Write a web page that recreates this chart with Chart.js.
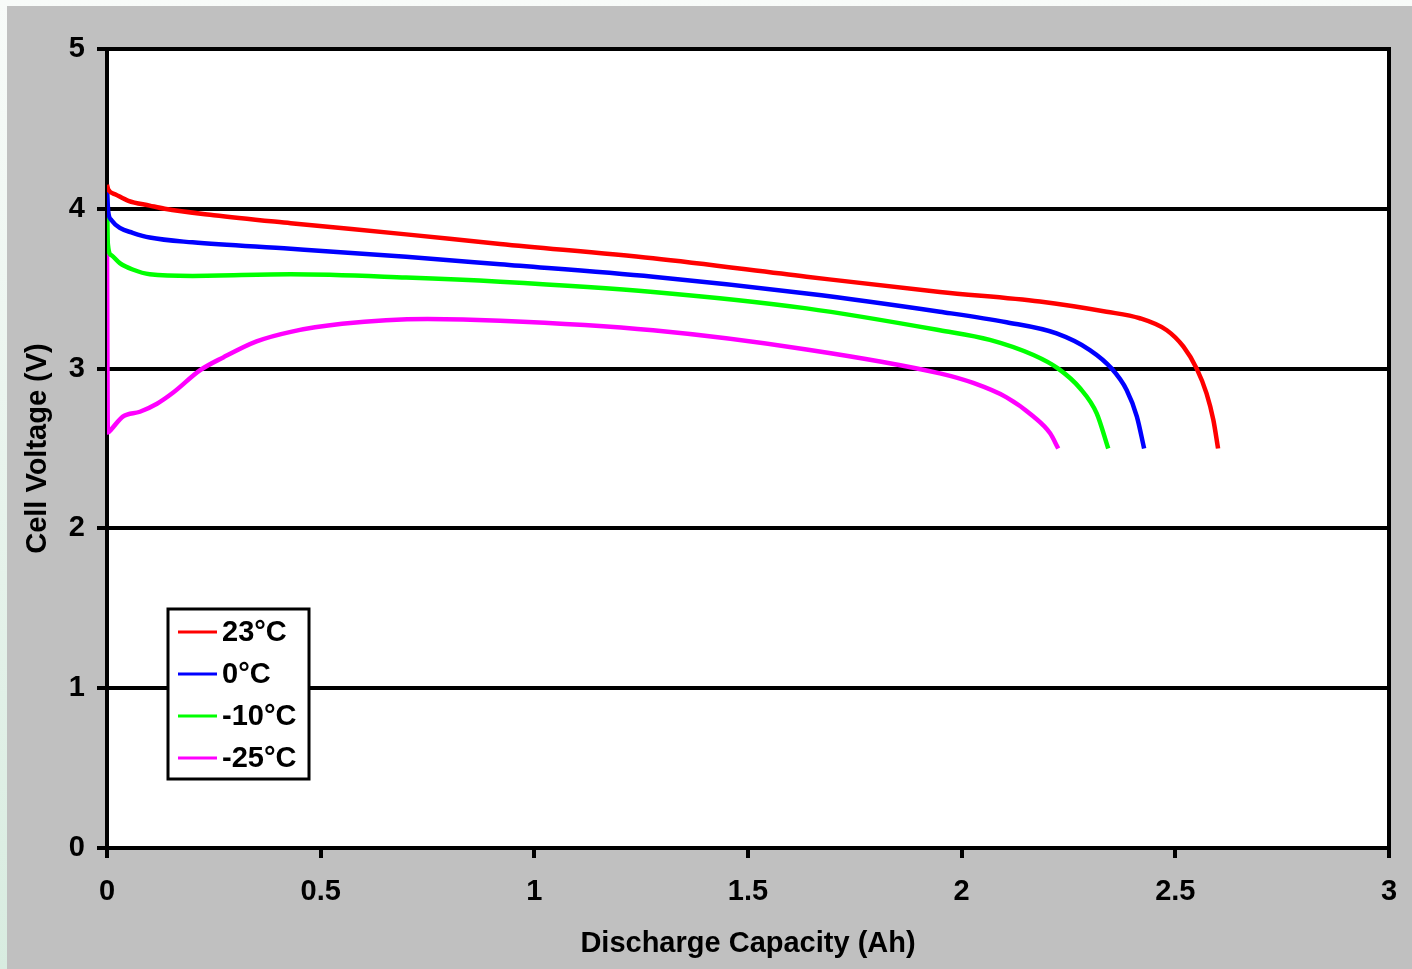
<!DOCTYPE html>
<html>
<head>
<meta charset="utf-8">
<script src="https://cdn.jsdelivr.net/npm/chart.js@4.4.1/dist/chart.umd.min.js"></script>
<style>
  body {
    margin: 0;
    width: 1412px;
    height: 969px;
    overflow: hidden;
    background: linear-gradient(to bottom, #f8fbf9, #d8ece0);
  }
  #chartJSContainer {
    position: absolute;
    left: 7px;
    top: 6px;
    background: #c0c0c0;
  }
</style>
</head>
<body>
<canvas id="chartJSContainer" width="1405" height="963"></canvas>
<script>
// discharge curves (capacity in Ah, voltage in V)
var labels = ["23°C", "0°C", "-10°C", "-25°C"];

var cap23 = [0, 0.003, 0.02, 0.05, 0.1, 0.135, 0.25, 0.43, 0.7, 0.92, 1.278, 1.637, 1.949, 2.183, 2.339, 2.417, 2.48, 2.519, 2.55, 2.573, 2.589, 2.6];
var volt23 = [4.15, 4.12, 4.09, 4.05, 4.02, 4.0, 3.96, 3.91, 3.84, 3.78, 3.69, 3.575, 3.48, 3.42, 3.356, 3.315, 3.24, 3.137, 3.0, 2.845, 2.678, 2.5];

var cap0 = [0, 0.003, 0.01, 0.03, 0.06, 0.1, 0.2, 0.43, 0.7, 0.92, 1.278, 1.637, 1.949, 2.105, 2.222, 2.3, 2.351, 2.386, 2.41, 2.427];
var volt0 = [4.12, 3.98, 3.93, 3.88, 3.85, 3.82, 3.79, 3.75, 3.7, 3.653, 3.575, 3.47, 3.356, 3.29, 3.22, 3.116, 3.0, 2.866, 2.7, 2.5];

var capM10 = [0, 0.002, 0.01, 0.03, 0.06, 0.1, 0.2, 0.43, 0.7, 0.92, 1.278, 1.637, 1.949, 2.066, 2.168, 2.226, 2.277, 2.316, 2.343];
var voltM10 = [4.1, 3.78, 3.71, 3.66, 3.62, 3.59, 3.58, 3.59, 3.57, 3.544, 3.48, 3.377, 3.24, 3.18, 3.085, 3.0, 2.877, 2.72, 2.5];

var capM25 = [0, 0.002, 0.01, 0.037, 0.077, 0.117, 0.155, 0.218, 0.272, 0.35, 0.43, 0.55, 0.75, 0.92, 1.278, 1.637, 1.949, 2.027, 2.105, 2.168, 2.207, 2.226];
var voltM25 = [3.78, 2.6, 2.62, 2.7, 2.73, 2.78, 2.85, 2.99, 3.07, 3.17, 3.23, 3.28, 3.31, 3.3, 3.24, 3.12, 2.97, 2.91, 2.82, 2.7, 2.595, 2.5];

var colors = ["#ff0000", "#0000ff", "#00ff00", "#ff00ff"];

function toPoints(xs, ys) {
  return xs.map(function (x, i) {
    return { x: x, y: ys[i] };
  });
}

var series = [
  toPoints(cap23, volt23),
  toPoints(cap0, volt0),
  toPoints(capM10, voltM10),
  toPoints(capM25, voltM25),
];

var FONT = "'Liberation Sans', Arial, sans-serif";

// black frame round the plot area, under the curves
var frame = {
  id: "frame",
  beforeDatasetsDraw: function (chart) {
    var a = chart.chartArea;
    var ctx = chart.ctx;
    ctx.save();
    ctx.strokeStyle = "#000";
    ctx.lineWidth = 4;
    ctx.strokeRect(a.left, a.top, a.right - a.left, a.bottom - a.top);
    ctx.restore();
  },
};

// boxed legend sitting inside the plot, lower left
var boxLegend = {
  id: "boxLegend",
  afterDatasetsDraw: function (chart) {
    var ctx = chart.ctx;
    var bx = 161, by = 603, bw = 141, bh = 170;
    ctx.save();
    ctx.fillStyle = "#fff";
    ctx.fillRect(bx, by, bw, bh);
    ctx.strokeStyle = "#000";
    ctx.lineWidth = 3;
    ctx.strokeRect(bx, by, bw, bh);
    ctx.font = "bold 29px " + FONT;
    ctx.textBaseline = "middle";
    chart.data.datasets.forEach(function (ds, i) {
      var y = 626 + i * 42;
      ctx.strokeStyle = ds.borderColor;
      ctx.lineWidth = 3;
      ctx.beginPath();
      ctx.moveTo(171, y);
      ctx.lineTo(210, y);
      ctx.stroke();
      ctx.fillStyle = "#000";
      ctx.fillText(ds.label, 215, y + 1);
    });
    ctx.restore();
  },
};

var options = {
  type: "line",
  data: {
    datasets: series.map(function (pts, i) {
      return {
        label: labels[i],
        data: pts,
        borderColor: colors[i],
        backgroundColor: colors[i],
        borderWidth: 4.5,
        pointRadius: 0,
        fill: false,
        cubicInterpolationMode: "monotone",
      };
    }),
  },
  options: {
    responsive: false,
    animation: false,
    devicePixelRatio: 1,
    layout: {
      padding: { top: 43, right: 23, left: 0, bottom: 0 },
    },
    scales: {
      x: {
        type: "linear",
        min: 0,
        max: 3,
        afterFit: function (scale) {
          scale.height = 121;
          scale.paddingLeft = 0;
          scale.paddingRight = 0;
        },
        ticks: {
          stepSize: 0.5,
          color: "#000",
          padding: 17,
          maxRotation: 0,
          callback: function (value) {
            return String(value);
          },
          font: { family: FONT, size: 29, weight: "bold" },
        },
        grid: {
          drawOnChartArea: false,
          drawTicks: true,
          tickLength: 10,
          color: "#000",
          lineWidth: 4,
        },
        border: { display: true, color: "#000", width: 4 },
        title: {
          display: true,
          text: "Discharge Capacity (Ah)",
          color: "#000",
          padding: 8,
          font: { family: FONT, size: 29, weight: "bold" },
        },
      },
      y: {
        min: 0,
        max: 5,
        afterFit: function (scale) {
          scale.width = 100;
        },
        ticks: {
          stepSize: 1,
          color: "#000",
          padding: 12,
          font: { family: FONT, size: 29, weight: "bold" },
        },
        grid: {
          drawTicks: true,
          tickLength: 10,
          color: "#000",
          lineWidth: 4,
        },
        border: { display: true, color: "#000", width: 4 },
        title: {
          display: true,
          text: "Cell Voltage (V)",
          color: "#000",
          padding: 14,
          font: { family: FONT, size: 29, weight: "bold" },
        },
      },
    },
    plugins: {
      legend: { display: false },
      tooltip: { enabled: false },
    },
  },
  plugins: [frame, boxLegend],
};

// white plot area behind everything
Chart.register({
  id: "plotBg",
  beforeDraw: function (chart) {
    var a = chart.chartArea;
    chart.ctx.save();
    chart.ctx.fillStyle = "#fff";
    chart.ctx.fillRect(a.left, a.top, a.right - a.left, a.bottom - a.top);
    chart.ctx.restore();
  },
});

var ctx = document.getElementById("chartJSContainer").getContext("2d");
window.test = new Chart(ctx, options);
</script>
</body>
</html>
